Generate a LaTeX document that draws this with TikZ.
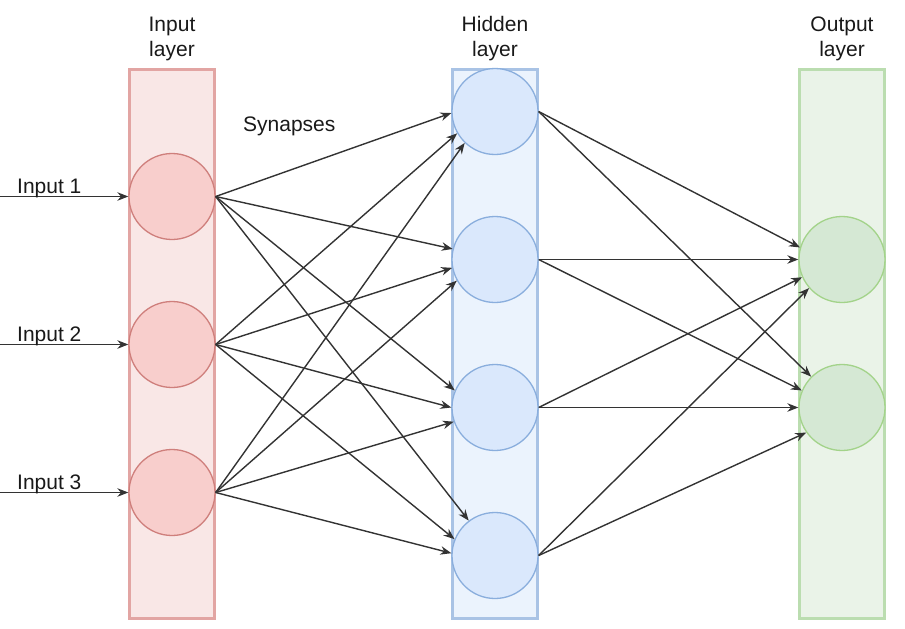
\documentclass[tikz,border=0pt]{standalone}
\usepackage{fontspec}
\setmainfont{Liberation Sans}
\usetikzlibrary{arrows.meta}
\definecolor{inFill}{HTML}{F9E7E6}
\definecolor{inStroke}{HTML}{E2A5A3}
\definecolor{inCirc}{HTML}{F8CECC}
\definecolor{inCircS}{HTML}{CF7F7C}
\definecolor{hidFill}{HTML}{EBF3FD}
\definecolor{hidStroke}{HTML}{A9C3E5}
\definecolor{hidCirc}{HTML}{DAE8FC}
\definecolor{hidCircS}{HTML}{8AAEDD}
\definecolor{outFill}{HTML}{EAF3E8}
\definecolor{outStroke}{HTML}{BBDDB0}
\definecolor{outCirc}{HTML}{D5E8D4}
\definecolor{outCircS}{HTML}{A3D38A}
\begin{document}
\begin{tikzpicture}[x=1pt,y=-1pt,
  layerbox/.style={rectangle,draw,line width=3pt,minimum width=85pt,minimum height=549pt,inner sep=0pt},
  neuron/.style={circle,draw,line width=1.3pt,minimum size=86pt,inner sep=0pt},
  lbl/.style={font=\fontsize{21}{25}\selectfont,text=black!90,inner sep=0pt},
  syn/.style={draw=black!80,line width=1.4pt,-{Stealth[length=11pt,width=8.5pt]}}]
\useasboundingbox (0,0) rectangle (905,629);
% layer boxes
\node[layerbox,draw=inStroke,fill=inFill] (inbox) at (172,344) {};
\node[layerbox,draw=hidStroke,fill=hidFill] (hidbox) at (495,344) {};
\node[layerbox,draw=outStroke,fill=outFill] (outbox) at (842,344) {};
% layer titles
\node[lbl,align=center] (tin) at (172,39) {Input\\layer};
\node[lbl,align=center] (thid) at (495,39) {Hidden\\layer};
\node[lbl,align=center] (tout) at (842,39) {Output\\layer};
\node[lbl,anchor=base west] (tsyn) at (243,131) {Synapses};
% neurons
\node[neuron,draw=inCircS,fill=inCirc] (i1) at (172,196.5) {};
\node[neuron,draw=inCircS,fill=inCirc] (i2) at (172,344.5) {};
\node[neuron,draw=inCircS,fill=inCirc] (i3) at (172,492.5) {};
\node[neuron,draw=hidCircS,fill=hidCirc] (h1) at (495,111.5) {};
\node[neuron,draw=hidCircS,fill=hidCirc] (h2) at (495,259.5) {};
\node[neuron,draw=hidCircS,fill=hidCirc] (h3) at (495,407.5) {};
\node[neuron,draw=hidCircS,fill=hidCirc] (h4) at (495,555.5) {};
\node[neuron,draw=outCircS,fill=outCirc] (o1) at (842,259.5) {};
\node[neuron,draw=outCircS,fill=outCirc] (o2) at (842,407.5) {};
% inputs
\coordinate (s1) at (0,196.5);
\coordinate (s2) at (0,344.5);
\coordinate (s3) at (0,492.5);
\draw[syn] (s1) -- (i1.west);
\draw[syn] (s2) -- (i2.west);
\draw[syn] (s3) -- (i3.west);
\node[lbl,anchor=base west] (l1) at (17,193) {Input 1};
\node[lbl,anchor=base west] (l2) at (17,341) {Input 2};
\node[lbl,anchor=base west] (l3) at (17,489) {Input 3};
% input -> hidden
\draw[syn] (i1.east) -- (h1.182);
\draw[syn] (i2.east) -- (h1.210);
\draw[syn] (i3.east) -- (h1.226);
\draw[syn] (i1.east) -- (h2.166);
\draw[syn] (i2.east) -- (h2.191);
\draw[syn] (i3.east) -- (h2.209);
\draw[syn] (i1.east) -- (h3.157);
\draw[syn] (i2.east) -- (h3.180);
\draw[syn] (i3.east) -- (h3.199);
\draw[syn] (i1.east) -- (h4.127);
\draw[syn] (i2.east) -- (h4.158);
\draw[syn] (i3.east) -- (h4.177);
% hidden -> output
\draw[syn] (h1.east) -- (o1.164);
\draw[syn] (h2.east) -- (o1.180);
\draw[syn] (h3.east) -- (o1.204);
\draw[syn] (h4.east) -- (o1.221);
\draw[syn] (h1.east) -- (o2.135);
\draw[syn] (h2.east) -- (o2.157);
\draw[syn] (h3.east) -- (o2.180);
\draw[syn] (h4.east) -- (o2.215);
\end{tikzpicture}
\end{document}
